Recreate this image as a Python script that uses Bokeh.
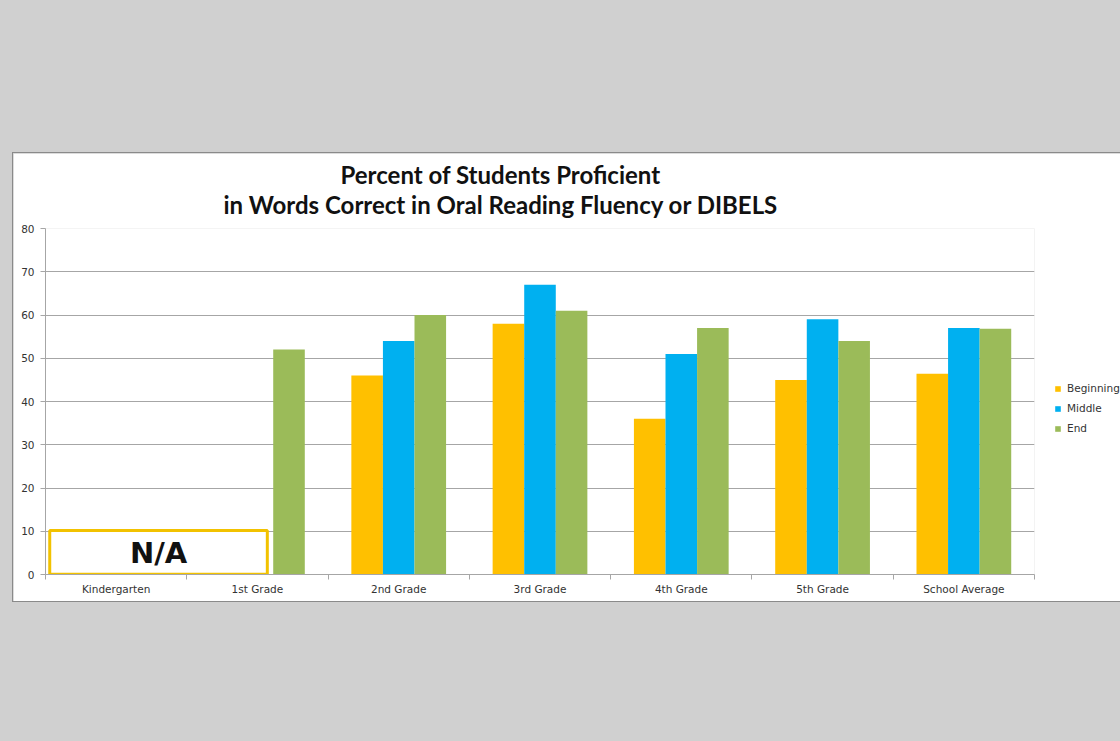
from bokeh.plotting import figure
from bokeh.models import (ColumnDataSource, FixedTicker, Legend, LegendItem, Title, Label)
from bokeh.embed import file_html
from bokeh.resources import INLINE

# Proficiency data (percent of students)
grades = ["Kindergarten", "1st Grade", "2nd Grade", "3rd Grade", "4th Grade", "5th Grade", "School Average"]
beginning = [None, None, 46, 58, 36, 45, 46.4]
middle = [None, None, 54, 67, 51, 59, 57]
end = [None, 52, 60, 61, 57, 54, 56.8]
series_names = ["Beginning", "Middle", "End"]
series_colors = ["#FFC000", "#00B0F0", "#9BBB59"]
y_ticks = [0, 10, 20, 30, 40, 50, 60, 70, 80]
na_label = "N/A"
na_height = 10.2

TICK_FONT = "DejaVu Sans"
TITLE_FONT = "Lato"
GRID = "#a6a6a6"

p = figure(frame_width=989, frame_height=346, x_range=(0, len(grades)), y_range=(0, 80),
           output_backend="svg", toolbar_location=None,
           min_border_left=32, min_border_top=75, min_border_bottom=27, min_border_right=90)
p.margin = (152, 0, 0, 12)
p.styles = {"border": "1px solid #8a8a8a", "border-right": "none"}
p.background_fill_color = "white"
p.border_fill_color = "white"
p.outline_line_color = None

bar_w = 0.2235
offsets = [-bar_w, 0, bar_w]
renderers = []
for vals, off, color in zip([beginning, middle, end], offsets, series_colors):
    xs = [i + 0.5 + off for i, v in enumerate(vals) if v is not None]
    tops = [v for v in vals if v is not None]
    src = ColumnDataSource(dict(x=xs, top=tops))
    r = p.vbar(x="x", top="top", width=bar_w, bottom=0, source=src,
               fill_color=color, line_color=None)
    renderers.append(r)

# N/A marker spanning the grades without data
p.quad(left=[0.03], right=[1.57], bottom=[0.05], top=[na_height],
       fill_color=None, line_color="#F2C200", line_width=3)
p.add_layout(Label(x=0.8, y=na_height / 2, text=na_label, text_align="center",
                   text_baseline="middle", text_font=TICK_FONT, text_font_size="29px",
                   text_font_style="bold", text_color="#111111", y_offset=-1))

# y axis
p.yaxis.ticker = FixedTicker(ticks=y_ticks)
p.yaxis.axis_line_color = GRID
p.yaxis.major_tick_line_color = GRID
p.yaxis.major_tick_out = 5
p.yaxis.major_tick_in = 0
p.yaxis.minor_tick_line_color = None
p.yaxis.major_label_text_font = TICK_FONT
p.yaxis.major_label_text_font_size = "10.5px"
p.yaxis.major_label_text_color = "#333333"
p.yaxis.major_label_standoff = 6
p.ygrid.grid_line_color = GRID
p.ygrid.grid_line_width = 1

# x axis: labels at centres, tick marks at category boundaries
centers = [i + 0.5 for i in range(len(grades))]
p.xaxis.ticker = FixedTicker(ticks=centers, minor_ticks=list(range(len(grades) + 1)))
p.xaxis.major_label_overrides = {c: g for c, g in zip(centers, grades)}
p.xaxis.major_tick_line_color = None
p.xaxis.minor_tick_line_color = GRID
p.xaxis.minor_tick_out = 5
p.xaxis.minor_tick_in = 0
p.xaxis.axis_line_color = GRID
p.xaxis.major_label_text_font = TICK_FONT
p.xaxis.major_label_text_font_size = "10.5px"
p.xaxis.major_label_text_color = "#333333"
p.xaxis.major_label_standoff = 2
p.xgrid.grid_line_color = None

# two-line title, left-aligned with per-line offsets so both lines share one centre
for line, so, off in [("in Words Correct in Oral Reading Fluency or DIBELS", 19, 178),
                      ("Percent of Students Proficient", -21, 295)]:
    t = Title(text=line, align="left", text_font=TITLE_FONT, text_font_size="24px",
              text_font_style="bold", text_color="#111111", standoff=so, offset=off)
    p.add_layout(t, "above")

legend = Legend(items=[LegendItem(label=n, renderers=[r]) for n, r in zip(series_names, renderers)],
                location=(20, 140), border_line_color=None, background_fill_alpha=0,
                label_text_font=TICK_FONT, label_text_font_size="10.5px", label_text_color="#333333",
                glyph_width=7, glyph_height=7, spacing=8, padding=0, margin=0,
                label_standoff=6)
p.add_layout(legend, "right")

html = file_html(p, INLINE)
html = html.replace("<head>", "<head><style>html,body{margin:0;background:#d0d0d0;overflow:hidden;}</style>", 1)
open("out.html", "w").write(html)
